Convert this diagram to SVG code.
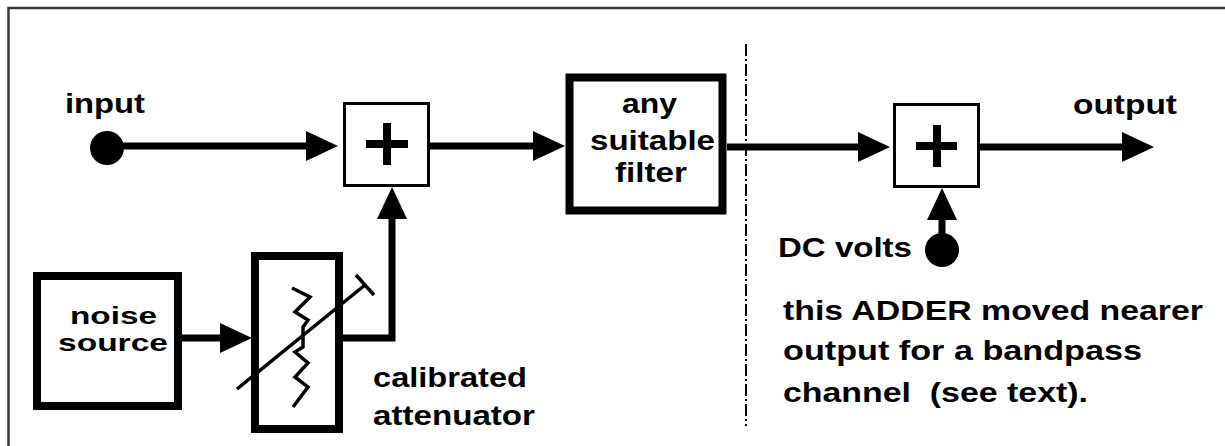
<svg xmlns="http://www.w3.org/2000/svg" width="1225" height="446" viewBox="0 0 1225 446">
  <defs>
    <style>
      text { font-family: "Liberation Sans", Arial, sans-serif; font-weight: bold; font-size: 28px; fill: #000; }
      .small { font-size: 23px; }
      .wire { stroke: #000; stroke-width: 7; fill: none; }
      .thin { stroke: #000; stroke-width: 3; fill: #fff; }
      .thick { stroke: #000; stroke-width: 8; fill: #fff; }
      .plus { stroke: #000; stroke-width: 8; fill: none; }
    </style>
    <!-- arrowhead drawn from its base (refX=0) forward to the tip -->
    <marker id="arrow" markerUnits="userSpaceOnUse" markerWidth="34" markerHeight="32" refX="0" refY="15" orient="auto">
      <path d="M0,0 L32,15 L0,30 Z" fill="#000"/>
    </marker>
  </defs>

  <rect width="1225" height="446" fill="#fff"/>

  <!-- frame -->
  <path d="M8.5,446 V8 H1225" fill="none" stroke="#3a3a3a" stroke-width="2.5"/>

  <!-- divider -->
  <line x1="746" y1="44" x2="746" y2="426" stroke="#000" stroke-width="2" stroke-dasharray="12 3 2 3"/>

  <g id="connectors">
    <line class="wire" x1="107" y1="146" x2="306" y2="146" marker-end="url(#arrow)"/>
    <line class="wire" x1="430" y1="146" x2="533" y2="146" marker-end="url(#arrow)"/>
    <line class="wire" x1="727" y1="147" x2="858" y2="147" marker-end="url(#arrow)"/>
    <line class="wire" x1="980" y1="147" x2="1122" y2="147" marker-end="url(#arrow)"/>
    <line class="wire" x1="942" y1="250" x2="942" y2="220" marker-end="url(#arrow)"/>
    <line class="wire" x1="182" y1="338" x2="220" y2="338" marker-end="url(#arrow)"/>
    <polyline class="wire" points="342,338 392,338 392,219" marker-end="url(#arrow)"/>
  </g>

  <g id="input">
    <circle cx="107" cy="148" r="17" fill="#000"/>
    <text x="65" y="113" textLength="80" lengthAdjust="spacingAndGlyphs">input</text>
  </g>

  <g id="adder1">
    <rect class="thin" x="344.5" y="103.5" width="84" height="82"/>
    <path class="plus" d="M366,144 H408 M387,123 V165"/>
  </g>

  <g id="filter">
    <rect class="thick" x="569.5" y="77.5" width="153" height="133" stroke-width="9"/>
    <text x="622" y="113" textLength="55" lengthAdjust="spacingAndGlyphs">any</text>
    <text x="590" y="150" textLength="125" lengthAdjust="spacingAndGlyphs">suitable</text>
    <text x="615" y="182" textLength="72" lengthAdjust="spacingAndGlyphs">filter</text>
  </g>

  <g id="adder2">
    <rect class="thin" x="894.5" y="104.5" width="84" height="82"/>
    <path class="plus" d="M916,146 H957 M937,125 V167"/>
  </g>

  <g id="output">
    <text x="1073" y="114" textLength="104" lengthAdjust="spacingAndGlyphs">output</text>
  </g>

  <g id="dc-volts">
    <circle cx="942" cy="250" r="17" fill="#000"/>
    <text x="778" y="257" textLength="134" lengthAdjust="spacingAndGlyphs">DC volts</text>
  </g>

  <g id="noise-source">
    <rect class="thick" x="37" y="276" width="141" height="130"/>
    <text class="small" x="70" y="324" textLength="87" lengthAdjust="spacingAndGlyphs">noise</text>
    <text class="small" x="58" y="351" textLength="110" lengthAdjust="spacingAndGlyphs">source</text>
  </g>

  <g id="attenuator">
    <rect class="thick" x="255" y="256" width="84" height="173"/>
    <!-- resistor -->
    <polyline points="292,288 310,297 295,312 308,320 303,327 303,347 295,352 308,363 295,377 308,387 293,407" fill="none" stroke="#000" stroke-width="3.5"/>
    <!-- variable arrow with end stop -->
    <line x1="237" y1="389" x2="365" y2="285" stroke="#000" stroke-width="3.5"/>
    <line x1="356" y1="275" x2="374" y2="295" stroke="#000" stroke-width="3.5"/>
    <text x="373" y="387" textLength="154" lengthAdjust="spacingAndGlyphs">calibrated</text>
    <text x="373" y="425" textLength="162" lengthAdjust="spacingAndGlyphs">attenuator</text>
  </g>

  <g id="note">
    <text x="783" y="320" textLength="420" lengthAdjust="spacingAndGlyphs">this ADDER moved nearer</text>
    <text x="783" y="360" textLength="359" lengthAdjust="spacingAndGlyphs">output for a bandpass</text>
    <text x="783" y="402" textLength="305" lengthAdjust="spacingAndGlyphs" xml:space="preserve">channel  (see text).</text>
  </g>
</svg>
